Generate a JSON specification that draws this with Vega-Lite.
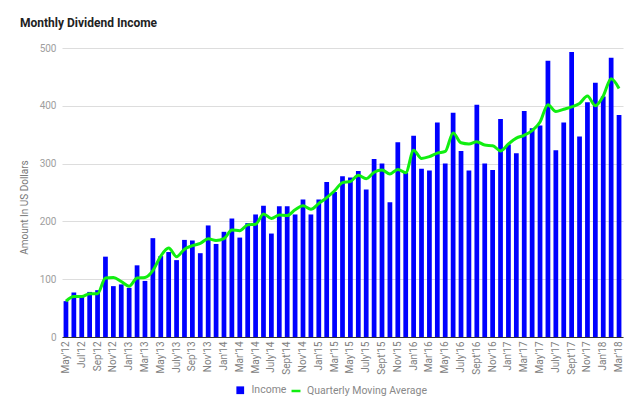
{
  "$schema": "https://vega.github.io/schema/vega-lite/v6.json",
  "description": "Monthly dividend income with a quarterly moving average.",
  "width": 561,
  "height": 289,
  "autosize": {"type": "none"},
  "padding": {"left": 62, "top": 48, "right": 17, "bottom": 74},
  "background": "#ffffff",
  "config": {
    "font": "Roboto",
    "view": {"stroke": null},
    "axis": {"labelFont": "Roboto", "titleFont": "Roboto"},
    "legend": {"labelFont": "Roboto"}
  },
  "title": {
    "text": "Monthly Dividend Income",
    "anchor": "start",
    "frame": "group",
    "dx": -42,
    "offset": 13,
    "fontSize": 12,
    "fontWeight": "bold",
    "color": "#222222"
  },
  "data": {
    "values": [
      {"month": "May'12", "income": 62, "avg": 62},
      {"month": "Jun'12", "income": 77, "avg": 70},
      {"month": "Jul'12", "income": 69, "avg": 70},
      {"month": "Aug'12", "income": 78, "avg": 75},
      {"month": "Sep'12", "income": 81, "avg": 75},
      {"month": "Oct'12", "income": 139, "avg": 102},
      {"month": "Nov'12", "income": 88, "avg": 103},
      {"month": "Dec'12", "income": 91, "avg": 96},
      {"month": "Jan'13", "income": 85, "avg": 88},
      {"month": "Feb'13", "income": 124, "avg": 102},
      {"month": "Mar'13", "income": 97, "avg": 103},
      {"month": "Apr'13", "income": 171, "avg": 115},
      {"month": "May'13", "income": 140, "avg": 140},
      {"month": "Jun'13", "income": 147, "avg": 154},
      {"month": "July'13", "income": 133, "avg": 139},
      {"month": "Aug'13", "income": 168, "avg": 152},
      {"month": "Sep'13", "income": 167, "avg": 158},
      {"month": "Oct'13", "income": 145, "avg": 162},
      {"month": "Nov'13", "income": 193, "avg": 170},
      {"month": "Dec'13", "income": 161, "avg": 167},
      {"month": "Jan'14", "income": 182, "avg": 170},
      {"month": "Feb'14", "income": 205, "avg": 185},
      {"month": "Mar'14", "income": 172, "avg": 184},
      {"month": "Apr'14", "income": 197, "avg": 194},
      {"month": "May'14", "income": 212, "avg": 195},
      {"month": "Jun'14", "income": 227, "avg": 213},
      {"month": "July'14", "income": 179, "avg": 205},
      {"month": "Aug'14", "income": 226, "avg": 211},
      {"month": "Sept'14", "income": 226, "avg": 210},
      {"month": "Oct'14", "income": 212, "avg": 220},
      {"month": "Nov'14", "income": 238, "avg": 227},
      {"month": "Dec'14", "income": 212, "avg": 221},
      {"month": "Jan'15", "income": 238, "avg": 231},
      {"month": "Feb'15", "income": 268, "avg": 241},
      {"month": "Mar'15", "income": 251, "avg": 253},
      {"month": "Apr'15", "income": 278, "avg": 267},
      {"month": "May'15", "income": 276, "avg": 269},
      {"month": "Jun'15", "income": 287, "avg": 280},
      {"month": "July'15", "income": 255, "avg": 274},
      {"month": "Aug'15", "income": 308, "avg": 285},
      {"month": "Sept'15", "income": 300, "avg": 289},
      {"month": "Oct'15", "income": 233, "avg": 282},
      {"month": "Nov'15", "income": 337, "avg": 290},
      {"month": "Dec'15", "income": 284, "avg": 284},
      {"month": "Jan'16", "income": 348, "avg": 323},
      {"month": "Feb'16", "income": 291, "avg": 309},
      {"month": "Mar'16", "income": 288, "avg": 312},
      {"month": "Apr'16", "income": 371, "avg": 318},
      {"month": "May'16", "income": 300, "avg": 321},
      {"month": "Jun'16", "income": 388, "avg": 353},
      {"month": "July'16", "income": 322, "avg": 336},
      {"month": "Aug'16", "income": 288, "avg": 334},
      {"month": "Sept'16", "income": 402, "avg": 338},
      {"month": "Oct'16", "income": 300, "avg": 332},
      {"month": "Nov'16", "income": 289, "avg": 331},
      {"month": "Dec'16", "income": 377, "avg": 322},
      {"month": "Jan'17", "income": 333, "avg": 334},
      {"month": "Feb'17", "income": 318, "avg": 344},
      {"month": "Mar'17", "income": 391, "avg": 349},
      {"month": "Apr'17", "income": 361, "avg": 357},
      {"month": "May'17", "income": 366, "avg": 372},
      {"month": "Jun'17", "income": 478, "avg": 402},
      {"month": "July'17", "income": 323, "avg": 390},
      {"month": "Aug'17", "income": 371, "avg": 394},
      {"month": "Sept'17", "income": 493, "avg": 398},
      {"month": "Oct'17", "income": 347, "avg": 404},
      {"month": "Nov'17", "income": 406, "avg": 417},
      {"month": "Dec'17", "income": 440, "avg": 400},
      {"month": "Jan'18", "income": 416, "avg": 417},
      {"month": "Feb'18", "income": 483, "avg": 447},
      {"month": "Mar'18", "income": 384, "avg": 430}
    ]
  },
  "encoding": {
    "x": {
      "field": "month",
      "type": "ordinal",
      "sort": null,
      "scale": {"paddingInner": 0.4, "paddingOuter": 0.2},
      "axis": {
        "title": null,
        "values": ["May'12", "Jul'12", "Sep'12", "Nov'12", "Jan'13", "Mar'13", "May'13", "July'13", "Sep'13", "Nov'13", "Jan'14", "Mar'14", "May'14", "July'14", "Sept'14", "Nov'14", "Jan'15", "Mar'15", "May'15", "July'15", "Sept'15", "Nov'15", "Jan'16", "Mar'16", "May'16", "July'16", "Sept'16", "Nov'16", "Jan'17", "Mar'17", "May'17", "July'17", "Sept'17", "Nov'17", "Jan'18", "Mar'18"],
        "labelAngle": 270,
        "labelFontSize": 10,
        "labelColor": "#808080",
        "labelPadding": 4,
        "ticks": false,
        "domainColor": "#333333",
        "labelOverlap": false
      }
    }
  },
  "layer": [
    {
      "mark": {"type": "bar"},
      "encoding": {
        "y": {
          "field": "income",
          "type": "quantitative",
          "scale": {"domain": [0, 500]},
          "axis": {
            "title": "Amount In US Dollars",
            "titleFontSize": 10,
            "titleFontWeight": "normal",
            "titleColor": "#777777",
            "titleX": -35,
            "titleY": 159,
            "titleAngle": 270,
            "titleBaseline": "alphabetic",
            "values": [0, 100, 200, 300, 400, 500],
            "labelFontSize": 10,
            "labelColor": "#9e9e9e",
            "labelPadding": 6,
            "ticks": false,
            "domain": false,
            "gridColor": "#dddddd"
          }
        },
        "color": {
          "datum": "Income",
          "scale": {"range": ["#0000ff"]},
          "legend": {
            "title": null,
            "orient": "none",
            "legendX": 173,
            "legendY": 337,
            "padding": 0,
            "symbolType": "square",
            "symbolSize": 60,
            "symbolStrokeWidth": 0,
            "labelFontSize": 10.5,
            "labelColor": "#888888",
            "labelOffset": 6
          }
        }
      }
    },
    {
      "mark": {"type": "line", "interpolate": "monotone", "strokeWidth": 3},
      "encoding": {
        "y": {"field": "avg", "type": "quantitative"},
        "stroke": {
          "datum": "Quarterly Moving Average",
          "scale": {"range": ["#11ee11"]},
          "legend": {
            "title": null,
            "orient": "none",
            "legendX": 228,
            "legendY": 337,
            "padding": 0,
            "symbolType": "stroke",
            "symbolSize": 80,
            "symbolStrokeWidth": 2.5,
            "labelFontSize": 10.5,
            "labelColor": "#888888",
            "labelOffset": 5
          }
        }
      }
    }
  ]
}
